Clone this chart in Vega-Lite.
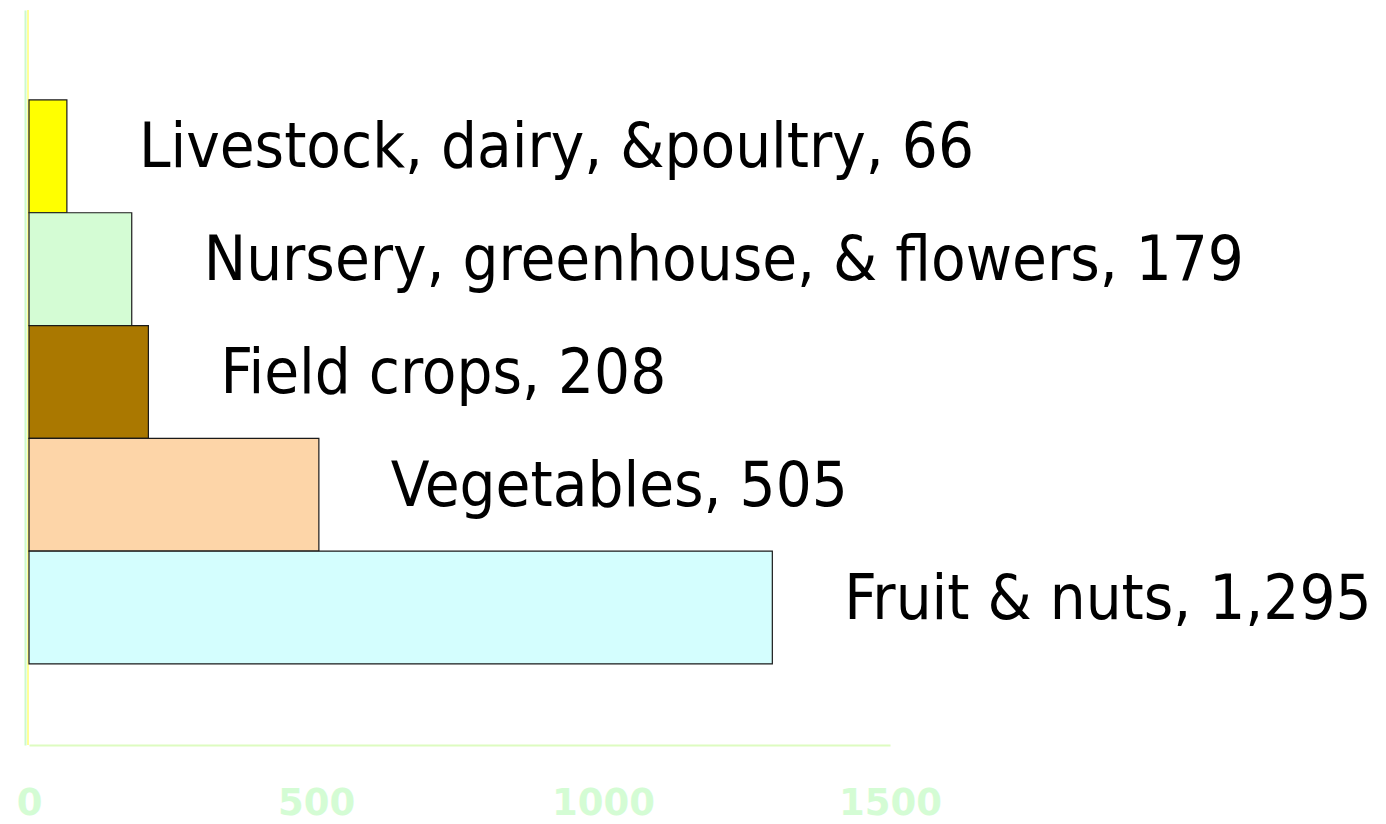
{
  "$schema": "https://vega.github.io/schema/vega-lite/v6.json",
  "width": 861,
  "height": 735,
  "autosize": {"type": "none"},
  "padding": {"left": 29, "top": 10, "right": 496, "bottom": 79},
  "background": "white",
  "config": {"view": {"stroke": null}},
  "data": {
    "values": [
      {"category": "Livestock, dairy, &poultry", "value": 66, "label": "Livestock, dairy, &poultry, 66"},
      {"category": "Nursery, greenhouse, & flowers", "value": 179, "label": "Nursery, greenhouse, & flowers, 179"},
      {"category": "Field crops", "value": 208, "label": "Field crops, 208"},
      {"category": "Vegetables", "value": 505, "label": "Vegetables, 505"},
      {"category": "Fruit & nuts", "value": 1295, "label": "Fruit & nuts, 1,295"}
    ]
  },
  "layer": [
    {
      "mark": {"type": "rule", "color": "#FFFF99", "strokeWidth": 1.5, "xOffset": -1},
      "encoding": {"x": {"datum": 0, "type": "quantitative", "scale": {"domain": [0, 1500], "nice": false}}}
    },
    {
      "mark": {"type": "bar", "stroke": "#1A1A1A", "strokeWidth": 1.2},
      "encoding": {
        "y": {
          "field": "category", "type": "nominal",
          "sort": ["Livestock, dairy, &poultry", "Nursery, greenhouse, & flowers", "Field crops", "Vegetables", "Fruit & nuts"],
          "scale": {"paddingInner": 0, "paddingOuter": 0.758, "align": 0.526},
          "axis": {"title": null, "labels": false, "ticks": false, "domainColor": "#CCFACC", "domainWidth": 2, "offset": 4}
        },
        "x": {
          "field": "value", "type": "quantitative",
          "scale": {"domain": [0, 1500], "nice": false},
          "axis": {
            "title": null, "grid": false, "ticks": false, "values": [0, 500, 1000, 1500], "format": "d",
            "domainColor": "#DDFCC0", "domainWidth": 2,
            "labelColor": "#D4FCD4", "labelFont": "DejaVu Sans", "labelFontWeight": "bold", "labelFontSize": 37,
            "labelPadding": 40, "labelFlush": false
          }
        },
        "color": {
          "field": "category", "type": "nominal", "legend": null,
          "scale": {
            "domain": ["Livestock, dairy, &poultry", "Nursery, greenhouse, & flowers", "Field crops", "Vegetables", "Fruit & nuts"],
            "range": ["#FFFF00", "#D4FCD4", "#AA7800", "#FDD5A8", "#D4FEFE"]
          }
        }
      }
    },
    {
      "mark": {"type": "text", "align": "left", "baseline": "middle", "dx": 72, "dy": -8, "font": "DejaVu Sans Condensed", "fontSize": 63, "color": "#000000"},
      "encoding": {
        "y": {
          "field": "category", "type": "nominal",
          "sort": ["Livestock, dairy, &poultry", "Nursery, greenhouse, & flowers", "Field crops", "Vegetables", "Fruit & nuts"]
        },
        "x": {"field": "value", "type": "quantitative"},
        "text": {"field": "label"}
      }
    }
  ]
}
